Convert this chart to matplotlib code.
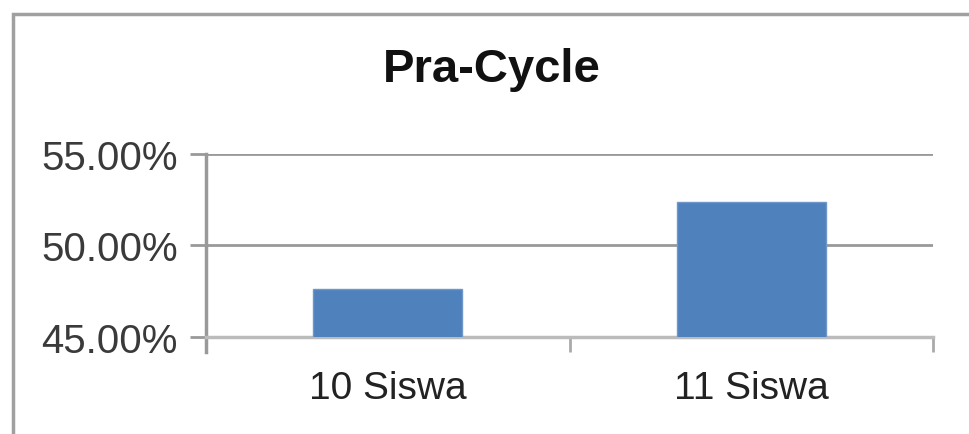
import matplotlib.pyplot as plt
import matplotlib.patches as patches
from matplotlib.ticker import FixedLocator, FuncFormatter

categories = ['10 Siswa', '11 Siswa']
values = [47.62, 52.38]
y_ticks = [45, 50, 55]
title = 'Pra-Cycle'

plt.rcParams['font.family'] = ['Liberation Sans', 'DejaVu Sans']

fig = plt.figure(figsize=(9.7, 4.35), dpi=100)
ax = fig.add_axes([0.2124, 0.2230, 0.7495, 0.4207])

# 柱状图
x = list(range(len(categories)))
ax.bar(x, values, width=0.41, color='#4F81BD', edgecolor='#6F97C9', linewidth=1.0, zorder=3)

ax.set_xlim(-0.5, len(categories) - 0.5)
ax.set_ylim(y_ticks[0], y_ticks[-1])
ax.set_yticks(y_ticks)
ax.yaxis.set_major_formatter(FuncFormatter(lambda v, p: f'{v:.2f}%'))
ax.grid(axis='y', color='#999999', linewidth=2.0, zorder=0)

ax.set_xticks(x)
ax.set_xticklabels(categories)
ax.xaxis.set_minor_locator(FixedLocator([-0.5, 0.5, 1.5]))
ax.tick_params(axis='x', which='major', length=0, pad=24, labelsize=28, labelcolor='#222222')
ax.tick_params(axis='x', which='minor', length=11, width=2, color='#aaaaaa', direction='out')
ax.tick_params(axis='y', length=11.5, width=2.0, color='#999999', pad=9, labelsize=29, labelcolor='#3a3a3a')

for s in ['top', 'right']:
    ax.spines[s].set_visible(False)
ax.spines['left'].set_color('#999999')
ax.spines['left'].set_linewidth(2.5)
ax.spines['left'].set_bounds(44.2, 55)
ax.spines['bottom'].set_color('#bbbbbb')
ax.spines['bottom'].set_linewidth(2.5)

fig.text(0.507, 0.84, title, ha='center', va='center', fontsize=34, fontweight='bold', color='#111111')

# 外框
border = patches.Rectangle((13 / 970, -0.2), 1.2, 1.2 - 14.5 / 435,
                           transform=fig.transFigure, fill=False,
                           edgecolor='#A0A0A0', linewidth=2.5, clip_on=False)
fig.patches.append(border)

plt.savefig('out.png', dpi=100)
